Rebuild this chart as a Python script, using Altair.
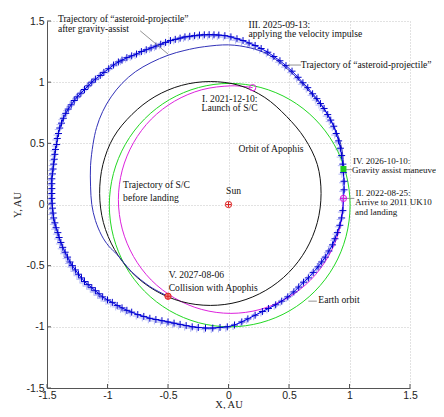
import altair as alt
import pandas as pd

# ---------------- data (AU) ----------------
# Orbit of Apophis (black)
apophis_x = [0.765, 0.734, 0.63, 0.48, 0.3, 0.087, -0.15, -0.387, -0.608, -0.797, -0.95, -1.038,
             -1.065, -1.034, -0.942, -0.797, -0.608, -0.387, -0.15, 0.087, 0.308, 0.497, 0.642, 0.734]
apophis_y = [0.09, 0.327, 0.54, 0.72, 0.875, 0.974, 1.005, 0.974, 0.882, 0.737, 0.55, 0.327,
             0.09, -0.147, -0.368, -0.557, -0.702, -0.794, -0.825, -0.794, -0.702, -0.557, -0.368, -0.147]

# Earth orbit (green)
earth_x = [1.005, 0.971, 0.872, 0.714, 0.508, 0.268, 0.01, -0.248, -0.488, -0.694, -0.852, -0.951,
           -0.985, -0.951, -0.852, -0.694, -0.488, -0.248, 0.01, 0.268, 0.508, 0.714, 0.872, 0.971]
earth_y = [-0.005, 0.253, 0.493, 0.699, 0.857, 0.956, 0.99, 0.956, 0.857, 0.699, 0.493, 0.253,
           -0.005, -0.263, -0.503, -0.709, -0.867, -0.966, -1.0, -0.966, -0.867, -0.709, -0.503, -0.263]

# Trajectory of S/C before landing (magenta), I -> II
sc_x = [0.2, 0.02, -0.221, -0.445, -0.638, -0.785, -0.878, -0.91, -0.878, -0.785, -0.638, -0.445,
        -0.221, 0.02, 0.261, 0.485, 0.678, 0.825, 0.918, 0.95]
sc_y = [0.955, 0.97, 0.938, 0.845, 0.698, 0.505, 0.281, 0.04, -0.201, -0.425, -0.618, -0.765,
        -0.858, -0.89, -0.858, -0.765, -0.618, -0.425, -0.201, 0.04]

# Trajectory of "asteroid-projectile" (blue with crosses)
ast_x = [0.95, 0.955, 0.955, 0.95, 0.945, 0.935, 0.925, 0.91, 0.89, 0.87, 0.845, 0.82, 0.79, 0.76,
         0.73, 0.695, 0.655, 0.615, 0.575, 0.525, 0.475, 0.425, 0.375, 0.325, 0.27, 0.22, 0.17, 0.12, 0.07,
         0.02, -0.03, -0.08, -0.12, -0.16, -0.2, -0.24, -0.28, -0.32, -0.36, -0.4, -0.44, -0.48,
         -0.52, -0.56, -0.6, -0.64, -0.68, -0.72, -0.76, -0.8, -0.84, -0.88, -0.91, -0.95, -0.99,
         -1.03, -1.06, -1.1, -1.13, -1.16, -1.19, -1.22, -1.25, -1.275, -1.3, -1.325, -1.345, -1.365,
         -1.38, -1.395, -1.405, -1.415, -1.42, -1.43, -1.435, -1.44, -1.445, -1.45, -1.455, -1.46,
         -1.46, -1.46, -1.46, -1.46, -1.458, -1.455, -1.45, -1.445, -1.435, -1.425, -1.41, -1.4,
         -1.385, -1.37, -1.35, -1.33, -1.31, -1.29, -1.265, -1.24, -1.215, -1.19, -1.16, -1.13,
         -1.1, -1.07, -1.04, -1.0, -0.96, -0.92, -0.88, -0.84, -0.8, -0.75, -0.7, -0.65, -0.6,
         -0.55, -0.5, -0.45, -0.4, -0.35, -0.3, -0.25, -0.19, -0.13, -0.07, -0.01, 0.05, 0.11,
         0.16, 0.22, 0.28, 0.33, 0.39, 0.44, 0.49, 0.54, 0.58, 0.62, 0.66, 0.7, 0.74, 0.77, 0.8,
         0.83, 0.86, 0.88, 0.9, 0.92, 0.935, 0.945]
ast_y = [0.05, 0.12, 0.19, 0.26, 0.33, 0.4, 0.46, 0.52, 0.58, 0.64, 0.69, 0.735, 0.785, 0.825,
         0.865, 0.905, 0.955, 0.995, 1.04, 1.09, 1.135, 1.175, 1.21, 1.245, 1.275, 1.3, 1.32, 1.34, 1.355,
         1.37, 1.38, 1.385, 1.387, 1.388, 1.387, 1.385, 1.38, 1.375, 1.37, 1.36, 1.35, 1.34,
         1.325, 1.31, 1.295, 1.28, 1.265, 1.25, 1.23, 1.215, 1.2, 1.18, 1.165, 1.14, 1.11,
         1.08, 1.055, 1.025, 1.0, 0.97, 0.94, 0.91, 0.88, 0.85, 0.815, 0.78, 0.745, 0.705,
         0.665, 0.625, 0.58, 0.54, 0.49, 0.45, 0.41, 0.37, 0.33, 0.29, 0.25, 0.21,
         0.17, 0.13, 0.09, 0.05, 0.01, -0.03, -0.07, -0.11, -0.15, -0.19, -0.23, -0.27,
         -0.31, -0.35, -0.39, -0.43, -0.47, -0.5, -0.535, -0.57, -0.6, -0.63, -0.655, -0.68,
         -0.705, -0.73, -0.755, -0.78, -0.8, -0.825, -0.845, -0.865, -0.88, -0.9, -0.915, -0.93, -0.94,
         -0.95, -0.96, -0.97, -0.98, -0.99, -1.0, -1.005, -1.01, -1.01, -1.005, -1.0, -0.985, -0.96,
         -0.935, -0.905, -0.875, -0.85, -0.82, -0.79, -0.755, -0.715, -0.675, -0.635, -0.6, -0.555, -0.51, -0.47, -0.43,
         -0.38, -0.33, -0.28, -0.23, -0.17, -0.11, -0.05]

# Trajectory of "asteroid-projectile" after gravity-assist (thin blue), IV -> V
ga_x = [0.95, 0.945, 0.92, 0.87, 0.79, 0.69, 0.57, 0.45, 0.32, 0.18, 0.0, -0.2, -0.36, -0.5,
        -0.64, -0.77, -0.88, -0.97, -1.04, -1.09, -1.12, -1.14, -1.14, -1.13, -1.1, -1.05, -0.99,
        -0.92, -0.8, -0.65, -0.5]
ga_y = [0.29, 0.4, 0.52, 0.64, 0.78, 0.9, 1.03, 1.14, 1.23, 1.28, 1.305, 1.29, 1.26, 1.22,
        1.16, 1.085, 0.99, 0.88, 0.76, 0.63, 0.49, 0.32, 0.15, 0.0, -0.13, -0.25, -0.34,
        -0.41, -0.55, -0.67, -0.75]

# Event markers
ev_name = ["I", "II", "IV", "V", "Sun"]
ev_x = [0.2, 0.95, 0.95, -0.5, 0.0]
ev_y = [0.955, 0.05, 0.29, -0.75, 0.0]

# Text annotations
lab_text = ["Trajectory of \u201casteroid-projectile\u201d", "after gravity-assist",
            "III. 2025-09-13:", "applying the velocity impulse",
            "Trajectory of \u201casteroid-projectile\u201d",
            "I. 2021-12-10:", "Launch of S/C",
            "Orbit of Apophis", "Sun",
            "IV. 2026-10-10:", "Gravity assist maneuver",
            "II. 2022-08-25:", "Arrive to 2011 UK10", "and landing",
            "Trajectory of S/C", "before landing",
            "V. 2027-08-06", "Collision with Apophis",
            "Earth orbit"]
lab_x = [-1.41, -1.41, 0.165, 0.165, 0.598, 0.24, 0.24, 0.083, -0.02, 1.028, 1.02,
         1.05, 1.045, 1.045, -0.871, -0.871, -0.494, -0.494, 0.742]
lab_y = [1.488, 1.412, 1.445, 1.369, 1.118, 0.837, 0.763, 0.43, 0.087, 0.327, 0.254,
         0.072, -0.006, -0.082, 0.136, 0.027, -0.597, -0.704, -0.805]
lab_align = ["left", "left", "left", "left", "left", "right", "right", "left", "left", "left",
             "left", "left", "left", "left", "left", "left", "left", "left", "left"]
# labels at the right edge of the page, set a little smaller so they fit
edge_labels = ["IV. 2026-10-10:", "Gravity assist maneuver", "II. 2022-08-25:",
               "Arrive to 2011 UK10", "and landing"]

# Leader lines
lead_x = [-0.73, 0.49, 0.965, 0.975, 0.66]
lead_y = [1.42, 1.14, 0.285, 0.05, -0.79]
lead_x2 = [-0.5, 0.6, 1.02, 1.04, 0.73]
lead_y2 = [1.23, 1.14, 0.285, 0.05, -0.79]

tick_vals = [-1.5, -1.0, -0.5, 0.0, 0.5, 1.0, 1.5]

# ---------------- chart ----------------
W, H = 363, 367
SERIF = "Liberation Serif"
SANS = "Liberation Sans"
PLUS = "M-1,0L1,0M0,-1L0,1"


def curve(xs, ys):
    return pd.DataFrame({"x": xs, "y": ys, "i": list(range(len(xs)))})


xscale = alt.Scale(domain=[-1.5, 1.5], nice=False, zero=False)
yscale = alt.Scale(domain=[-1.5, 1.5], nice=False, zero=False)

common_axis = dict(values=tick_vals, grid=True, gridDash=[1, 2], gridColor="#c4c4c4",
                   ticks=False, domainColor="#555555", labelFont=SANS, labelFontSize=10.5,
                   labelColor="#222222", labelExpr="'' + datum.value",
                   titleFont=SERIF, titleFontSize=10.5, titleFontWeight="normal", titleColor="#222222",
                   titleBaseline="alphabetic", labelFlush=False, labelOverlap=False)
xaxis = alt.Axis(title="X, AU", titleY=19.5, labelPadding=2, **common_axis)
yaxis = alt.Axis(title="Y, AU", titleX=-27, titleY=H / 2, titleAngle=270, labelPadding=3,
                 **common_axis)

X = alt.X("x:Q", scale=xscale, axis=xaxis)
Y = alt.Y("y:Q", scale=yscale, axis=yaxis)
ORD = alt.Order("i:Q")


def line(df, color, interp, width=1.0):
    return alt.Chart(df).mark_line(color=color, strokeWidth=width, interpolate=interp).encode(
        x=X, y=Y, order=ORD)


df_ap = curve(apophis_x, apophis_y)
df_earth = curve(earth_x, earth_y)
df_sc = curve(sc_x, sc_y)
df_ast = curve(ast_x, ast_y)
df_ga = curve(ga_x, ga_y)
df_ev = pd.DataFrame({"name": ev_name, "x": ev_x, "y": ev_y})
df_lab = pd.DataFrame({"t": lab_text, "x": lab_x, "y": lab_y, "a": lab_align})
df_lab["edge"] = df_lab["t"].isin(edge_labels)
df_lead = pd.DataFrame({"x": lead_x, "y": lead_y, "x2": lead_x2, "y2": lead_y2})
df_ticks = pd.DataFrame({"v": tick_vals})

layers = []
# in-pointing ticks
layers.append(alt.Chart(df_ticks).mark_rule(color="#555555", strokeWidth=1).encode(
    x=alt.X("v:Q", scale=xscale, axis=xaxis), y=alt.value(H), y2=alt.value(H - 4)))
layers.append(alt.Chart(df_ticks).mark_rule(color="#555555", strokeWidth=1).encode(
    y=alt.Y("v:Q", scale=yscale, axis=yaxis), x=alt.value(0), x2=alt.value(4)))

# shadow crosses of previous revolutions
layers.append(alt.Chart(df_ast).mark_point(shape=PLUS, filled=False, color="#aab0f4", strokeWidth=1,
                                           size=49, opacity=0.85, xOffset=-1.5, yOffset=1.5).encode(x=X, y=Y))
layers.append(line(df_earth, "#22d822", "cardinal-closed"))
layers.append(line(df_sc, "#dd22dd", "cardinal"))
layers.append(line(df_ap, "#111111", "cardinal-closed"))
layers.append(line(df_ga, "#3232b8", "cardinal"))
layers.append(line(df_ast, "#0000ee", "linear-closed"))
layers.append(alt.Chart(df_ast).mark_point(shape=PLUS, filled=False, color="#0000cc", strokeWidth=1,
                                           size=49, opacity=1).encode(x=X, y=Y))

# leader lines
layers.append(alt.Chart(df_lead).mark_rule(color="#777777", strokeWidth=0.8).encode(
    x=X, y=Y, x2="x2:Q", y2="y2:Q"))

# event markers
ev = alt.Chart(df_ev)
layers.append(ev.transform_filter("datum.name == 'I' || datum.name == 'II'").mark_point(
    shape="circle", filled=False, color="#dd22dd", strokeWidth=1, size=40, opacity=1).encode(x=X, y=Y))
layers.append(ev.transform_filter("datum.name == 'II'").mark_point(
    shape=PLUS, filled=False, color="#dd22dd", strokeWidth=1, size=36, opacity=1).encode(x=X, y=Y))
layers.append(ev.transform_filter("datum.name == 'IV'").mark_point(
    shape="square", filled=True, color="#22cc22", size=36, opacity=1).encode(x=X, y=Y))
layers.append(ev.transform_filter("datum.name == 'V'").mark_point(
    shape="circle", filled=True, fill="#f08888", stroke="#dd2222", strokeWidth=1, size=40,
    opacity=1).encode(x=X, y=Y))
layers.append(ev.transform_filter("datum.name == 'Sun'").mark_point(
    shape="circle", filled=False, color="#dd2222", strokeWidth=1, size=40, opacity=1).encode(x=X, y=Y))
layers.append(ev.transform_filter("datum.name == 'V' || datum.name == 'Sun'").mark_point(
    shape=PLUS, filled=False, color="#dd2222", strokeWidth=1, size=30, opacity=1).encode(x=X, y=Y))

# text labels
for al in ["left", "right"]:
    layers.append(alt.Chart(df_lab).transform_filter(
        f"datum.a == '{al}' && !datum.edge").mark_text(
        align=al, baseline="alphabetic", font=SERIF, fontSize=9.6, color="#111111").encode(
        x=X, y=Y, text="t:N"))
layers.append(alt.Chart(df_lab).transform_filter("datum.edge").mark_text(
    align="left", baseline="alphabetic", font=SERIF, fontSize=9.0, color="#111111").encode(
    x=X, y=Y, text="t:N"))

chart = alt.layer(*layers).properties(
    width=W, height=H,
    padding={"left": 39, "top": 13, "right": 26, "bottom": 21},
    autosize=alt.AutoSizeParams(type="none"),
).configure_view(stroke=None)

chart.save("out.html", embed_options={"renderer": "svg", "actions": False})
